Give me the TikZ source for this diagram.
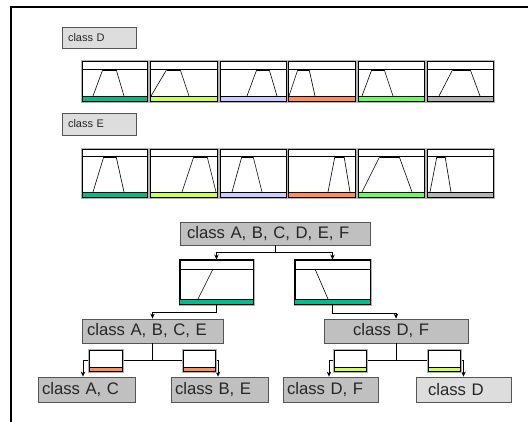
\documentclass[tikz,border=0pt]{standalone}
\usepackage{fontspec}
\setmainfont{Liberation Sans}
\usetikzlibrary{arrows.meta}
\definecolor{cteal}{RGB}{0,190,140}
\definecolor{cyelg}{RGB}{204,255,80}
\definecolor{clav}{RGB}{204,204,255}
\definecolor{corange}{RGB}{255,140,80}
\definecolor{cgreen}{RGB}{100,255,80}
\definecolor{cgray}{RGB}{180,180,180}
\definecolor{boxgray}{RGB}{192,192,192}
\definecolor{boxlight}{RGB}{221,221,221}
\definecolor{edgegray}{RGB}{85,85,85}
\newcommand{\mypanel}[7]{%
  \fill[white] (#1,\pya) rectangle (#2,\pyd);
  \fill[#3] (#1,\pyc) rectangle (#2,\pyd);
  \draw[gray!60, line width=0.6pt] (#1-1,\pya-1) rectangle (#2+1,\pyd+1);
  \draw[panelline] (#1,\pya) rectangle (#2,\pyd);
  \draw[panelline] (#1,\pyb) -- (#2,\pyb);
  \draw[panelline] (#1,\pyc) -- (#2,\pyc);
  \draw[legline] (#6,\pyc) -- (#4,\pyb);
  \draw[legline] (#5,\pyb) -- (#7,\pyc);
  \draw[line width=1.8pt] (#4,\pyb+0.6) -- (#5,\pyb+0.6);
}
\begin{document}
\begin{tikzpicture}[x=1pt,y=-1pt,
  panelline/.style={draw=black, line width=0.9pt},
  legline/.style={draw=black, line width=0.6pt},
  lbl/.style={draw=edgegray, line width=0.8pt, fill=boxlight, inner sep=0pt, font=\fontsize{11}{13}\selectfont, text=black!85, align=left},
  cbox/.style={draw=edgegray, line width=0.8pt, fill=boxgray, inner sep=0pt, font=\fontsize{16.7}{18}\selectfont, text=black!85, align=left},
  tpanel/.style={draw=black, line width=0.9pt, fill=white, inner sep=0pt},
  conn/.style={draw=black, line width=0.8pt},
  arr/.style={conn, -{Stealth[length=5pt,width=4.5pt]}}]
\useasboundingbox (0,0) rectangle (528,421);
\fill[white] (0,0) rectangle (528,421);
\draw[line width=2pt] (11,430) -- (11,7) -- (540,7);

% label boxes
\node[lbl, minimum width=74, minimum height=21, text width=62] (lblD) at (99,37.5) {class D};
\node[lbl, minimum width=74, minimum height=22, text width=62] (lblE) at (99,124) {class E};

% row 1 panels
\def\pya{61}\def\pyb{69}\def\pyc{96}\def\pyd{101}
\mypanel{82}{147}{cteal}{103}{116}{93}{124}
\mypanel{150}{217}{cyelg}{167}{180}{151}{189}
\mypanel{220}{286}{clav}{257}{269}{247}{277}
\mypanel{288}{355}{corange}{298}{309}{289}{315}
\mypanel{358}{424}{cgreen}{372}{384}{362}{393}
\mypanel{427}{493}{cgray}{453}{470}{439}{480}

% row 2 panels
\def\pya{149}\def\pyb{156}\def\pyc{192}\def\pyd{197}
\mypanel{82}{147}{cteal}{104}{116}{93}{124}
\mypanel{150}{217}{cyelg}{194}{207}{182}{216}
\mypanel{220}{286}{clav}{242}{253}{232}{262}
\mypanel{288}{355}{corange}{335}{344}{328}{350}
\mypanel{358}{424}{cgreen}{380}{399}{362}{412}
\mypanel{427}{493}{cgray}{437}{445}{430}{451}

% tree boxes
\node[cbox, minimum width=190, minimum height=23, text width=176] (root) at (275,233.5) {class A, B, C, D, E, F};
\node[cbox, minimum width=141, minimum height=24, text width=131] (abce) at (152.5,331) {class A, B, C, E};
\node[cbox, minimum width=144, minimum height=24, text width=86] (df) at (396,331) {class D, F};
\node[cbox, minimum width=97, minimum height=25, text width=89] (ac) at (86.5,389.5) {class A, C};
\node[cbox, minimum width=97, minimum height=25, text width=89] (be) at (219.5,389.5) {class B, E};
\node[cbox, minimum width=95, minimum height=25, text width=87] (df2) at (330.5,389.5) {class D, F};
\node[cbox, fill=boxlight, minimum width=95, minimum height=25, text width=71] (dd) at (463.5,389.5) {class D};

% tree panels
\node[tpanel, minimum width=73, minimum height=44] (pl) at (216.5,282) {};
\node[tpanel, minimum width=75, minimum height=44] (pr) at (332.5,282) {};
\fill[cteal] (180,299) rectangle (253,304);
\fill[cteal] (295,299) rectangle (370,304);
\draw[gray!60, line width=0.6pt] (179,259) rectangle (254,305);
\draw[gray!60, line width=0.6pt] (294,259) rectangle (371,305);
\draw[panelline] (pl.north west) rectangle (pl.south east);
\draw[panelline] (pr.north west) rectangle (pr.south east);
\draw[panelline] (180,269) -- (253,269) (180,299) -- (253,299);
\draw[panelline] (295,269) -- (370,269) (295,299) -- (370,299);
\draw[legline] (213,269) -- (198,299);
\draw[legline] (315,269) -- (328,299);

% connectors
\coordinate (j1) at (275,252);
\draw[conn] (root.south) -- (j1);
\draw[arr] (j1) -| (pl.north);
\draw[arr] (j1) -| (pr.north);
\draw[arr] (pl.south) -- ++(0,8) -| (abce.north);
\draw[arr] (pr.south) -- ++(0,9) -| (df.north);
\coordinate (j2) at (152.5,360);
\coordinate (j3) at (396,360);
\draw[conn] (abce.south) -- (j2);
\draw[arr] (j2) -| ([xshift=-3.5pt]ac.north);
\draw[arr] (j2) -| ([xshift=-1.5pt]be.north);
\draw[conn] (df.south) -- (j3);
\draw[arr] (j3) -| ([xshift=-1.5pt]df2.north);
\draw[arr] (j3) -| (dd.north);

% small panels on the branches
\foreach \xa/\xb/\cc in {89/122/corange, 183/215/corange, 334/366/cyelg, 428/460/cyelg}{
  \fill[white] (\xa,350) rectangle (\xb,371);
  \fill[\cc] (\xa,367) rectangle (\xb,371);
  \draw[gray!60, line width=0.6pt] (\xa-1,349) rectangle (\xb+1,372);
  \draw[panelline] (\xa,350) rectangle (\xb,371);
  \draw[panelline] (\xa,367) -- (\xb,367);
}
\end{tikzpicture}
\end{document}
